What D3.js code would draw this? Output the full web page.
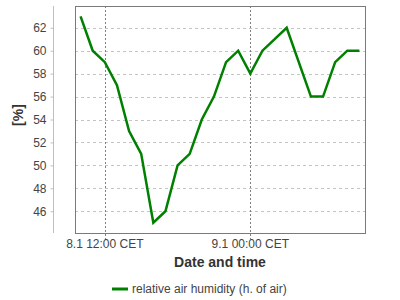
<!DOCTYPE html>
<html>
<head>
<meta charset="utf-8">
<script src="https://cdn.jsdelivr.net/npm/d3@7"></script>
<style>
  html, body { margin: 0; padding: 0; background: #fff; }
  text { font-family: Arial, "Liberation Sans", sans-serif; }
</style>
</head>
<body>
<div id="chart"></div>
<script>
// ── DATA ────────────────────────────────────────────────────────────────
// hourly readings, 8.1 10:00 → 9.1 09:00 (CET)
const times = [
  '2000-01-08T10:00', '2000-01-08T11:00', '2000-01-08T12:00', '2000-01-08T13:00',
  '2000-01-08T14:00', '2000-01-08T15:00', '2000-01-08T16:00', '2000-01-08T17:00',
  '2000-01-08T18:00', '2000-01-08T19:00', '2000-01-08T20:00', '2000-01-08T21:00',
  '2000-01-08T22:00', '2000-01-08T23:00', '2000-01-09T00:00', '2000-01-09T01:00',
  '2000-01-09T03:00', '2000-01-09T05:00', '2000-01-09T06:00', '2000-01-09T07:00',
  '2000-01-09T08:00', '2000-01-09T09:00'
];
const humidity = [63, 60, 59, 57, 53, 51, 45, 46, 50, 51, 54, 56, 59, 60, 58, 60, 62, 56, 56, 59, 60, 60];
const yTicks = [46, 48, 50, 52, 54, 56, 58, 60, 62];
const xTicks = ['2000-01-08T12:00', '2000-01-09T00:00'];
const xTickLabels = ['8.1 12:00 CET', '9.1 00:00 CET'];
const seriesName = 'relative air humidity (h. of air)';

// ── CHART ───────────────────────────────────────────────────────────────
const W = 400, H = 300;
const plot = { left: 75, top: 6, right: 365, bottom: 233 };
const parse = d3.timeParse('%Y-%m-%dT%H:%M');
const pts = times.map((t, i) => ({ t: parse(t), v: humidity[i] }));

const svg = d3.select('#chart').append('svg').attr('width', W).attr('height', H);

// domains padded a little like the original
const [t0, t1] = d3.extent(pts, d => d.t);
const tPad = (t1 - t0) * 0.02;
const x = d3.scaleTime()
  .domain([new Date(+t0 - tPad), new Date(+t1 + tPad)])
  .range([plot.left, plot.right]);
const [v0, v1] = d3.extent(humidity);
const vPad = (v1 - v0) * 0.05;
const y = d3.scaleLinear().domain([v0 - vPad, v1 + vPad]).range([plot.bottom, plot.top]);

// Horizontal grid
svg.append('g').selectAll('line').data(yTicks).enter().append('line')
  .attr('x1', plot.left).attr('x2', plot.right)
  .attr('y1', d => Math.round(y(d)) + 0.5).attr('y2', d => Math.round(y(d)) + 0.5)
  .attr('stroke', '#c4c4c4').attr('stroke-width', 1).attr('stroke-dasharray', '3,3');

// Vertical grid
svg.append('g').selectAll('line').data(xTicks).enter().append('line')
  .attr('x1', d => Math.round(x(parse(d))) + 0.5).attr('x2', d => Math.round(x(parse(d))) + 0.5)
  .attr('y1', plot.top).attr('y2', plot.bottom + 6)
  .attr('stroke', '#808080').attr('stroke-width', 1).attr('stroke-dasharray', '2,2');

// Plot frame
svg.append('rect')
  .attr('x', plot.left + 0.5).attr('y', plot.top + 0.5)
  .attr('width', plot.right - plot.left).attr('height', plot.bottom - plot.top)
  .attr('fill', 'none').attr('stroke', '#7a7a7a').attr('stroke-width', 1);

// Y axis (detached, on the left)
const yAxis = svg.append('g').attr('transform', 'translate(53.5,0)')
  .call(d3.axisLeft(y).tickValues(yTicks).tickSize(3).tickPadding(4).tickSizeOuter(0));
yAxis.select('.domain').attr('stroke', '#c0c0c0')
  .attr('d', `M0,${plot.top}V${plot.bottom}`);
yAxis.selectAll('.tick line').attr('stroke', '#c0c0c0');
yAxis.selectAll('.tick text').attr('fill', '#444').attr('font-size', '12px')
  .attr('font-family', 'Arial, "Liberation Sans", sans-serif');

// X tick labels
svg.append('g').selectAll('text').data(xTicks).enter().append('text')
  .attr('x', d => x(parse(d))).attr('y', 248)
  .attr('text-anchor', 'middle').attr('fill', '#444').attr('font-size', '12px')
  .text((d, i) => xTickLabels[i]);

// Axis titles
svg.append('text').attr('x', (plot.left + plot.right) / 2).attr('y', 267)
  .attr('text-anchor', 'middle').attr('fill', '#333').attr('font-size', '14px')
  .attr('font-weight', 'bold').text('Date and time');
svg.append('text').attr('transform', 'translate(23,115) rotate(-90)')
  .attr('text-anchor', 'middle').attr('fill', '#333').attr('font-size', '14px')
  .attr('font-weight', 'bold').text('[%]');

// Series line
const line = d3.line().x(d => x(d.t)).y(d => y(d.v));
svg.append('path').datum(pts)
  .attr('d', line).attr('fill', 'none')
  .attr('stroke', '#008000').attr('stroke-width', 2.5).attr('stroke-linejoin', 'miter');

// Legend
const lg = svg.append('g').attr('transform', 'translate(112,289)');
lg.append('line').attr('x1', 0).attr('x2', 16).attr('y1', 0).attr('y2', 0)
  .attr('stroke', '#008000').attr('stroke-width', 3);
lg.append('text').attr('x', 20).attr('y', 4).attr('fill', '#444').attr('font-size', '12px')
  .text(seriesName);
</script>
</body>
</html>
